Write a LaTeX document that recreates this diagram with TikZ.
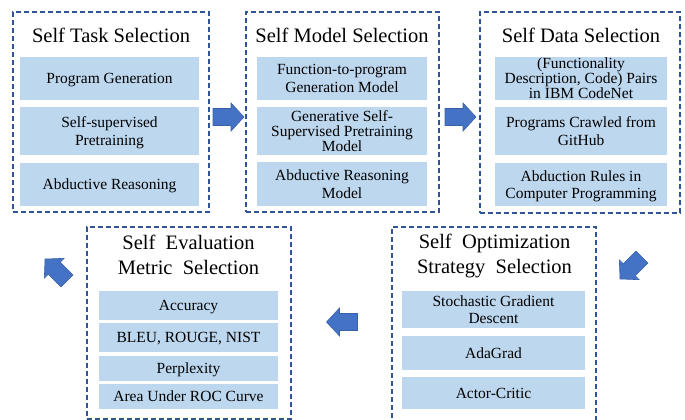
\documentclass[tikz,border=0pt]{standalone}
\usepackage{fontspec}
\setmainfont{Liberation Serif}
\usetikzlibrary{calc}
\definecolor{frameblue}{RGB}{47,85,151}
\definecolor{cellblue}{RGB}{189,215,238}
\definecolor{arrowblue}{RGB}{68,114,196}
\def\blockarrow(#1)(#2){\draw[line width=0.6pt, draw=arrowblue!85!black, fill=arrowblue, shift={(#1)}, rotate=#2] (-15.5,-8.5) -- (2.5,-8.5) -- (2.5,-14) -- (15.5,0) -- (2.5,14) -- (2.5,8.5) -- (-15.5,8.5) -- cycle;}

\begin{document}
\begin{tikzpicture}[x=1pt, y=-1pt,
	frame/.style={draw=frameblue, line width=1.2pt, dash pattern=on 5pt off 3pt, inner sep=0pt},
	title/.style={font=\fontsize{20.5}{25}\selectfont, align=center, inner sep=0pt},
	cell/.style={fill=cellblue, inner sep=0pt, align=center, text depth=0pt, font=\fontsize{15.5}{17.5}\selectfont}]
			%%%%% START %%%%%
			\useasboundingbox (0,0) rectangle (685,420);
			
			\node[frame, minimum width=196, minimum height=200] (task) at (111,112) {};
			\node[title] (tasktitle) at (111,35) {Self Task Selection};
			\node[cell, minimum width=179, minimum height=43] (task1) at (109.5,78.5) {Program Generation};
			\node[cell, minimum width=179, minimum height=48] (task2) at (109.5,131) {Self-supervised\\Pretraining};
			\node[cell, minimum width=179, minimum height=43] (task3) at (109.5,184.5) {Abductive Reasoning};
			
			\node[frame, minimum width=193, minimum height=200] (model) at (342.5,112) {};
			\node[title] (modeltitle) at (342,35) {Self Model Selection};
			\node[cell, minimum width=170, minimum height=43] (model1) at (342,78.5) {Function-to-program\\Generation Model};
			\node[cell, minimum width=170, minimum height=48, font=\fontsize{15.5}{15}\selectfont] (model2) at (342,131) {Generative Self-\\Supervised Pretraining\\Model};
			\node[cell, minimum width=170, minimum height=44] (model3) at (342,184) {Abductive Reasoning\\Model};
			
			\node[frame, minimum width=200, minimum height=201] (data) at (580,112.5) {};
			\node[title] (datatitle) at (581,35) {Self Data Selection};
			\node[cell, minimum width=172, minimum height=43, font=\fontsize{15.5}{15}\selectfont] (data1) at (581,78.5) {(Functionality\\Description, Code) Pairs\\in IBM CodeNet};
			\node[cell, minimum width=172, minimum height=48] (data2) at (581,131) {Programs Crawled from\\GitHub};
			\node[cell, minimum width=172, minimum height=43] (data3) at (581,184.5) {Abduction Rules in\\Computer Programming};
			
			\node[frame, minimum width=204, minimum height=198] (optim) at (494,326) {};
			\node[title] (optimtitle) at (494.5,255.5) {Self~ Optimization\\Strategy~ Selection};
			\node[cell, minimum width=183, minimum height=37] (optim1) at (493.5,309.5) {Stochastic Gradient\\Descent};
			\node[cell, minimum width=183, minimum height=34] (optim2) at (493.5,353) {AdaGrad};
			\node[cell, minimum width=183, minimum height=32] (optim3) at (493.5,393) {Actor-Critic};
			
			\node[frame, minimum width=204, minimum height=192] (eval) at (189,323) {};
			\node[title] (evaltitle) at (188.5,254.5) {Self~ Evaluation\\Metric~ Selection};
			\node[cell, minimum width=179, minimum height=29] (eval1) at (188.5,305.5) {Accuracy};
			\node[cell, minimum width=179, minimum height=29] (eval2) at (188.5,337.5) {BLEU, ROUGE, NIST};
			\node[cell, minimum width=179, minimum height=25] (eval3) at (188.5,368.5) {Perplexity};
			\node[cell, minimum width=179, minimum height=25] (eval4) at (188.5,396.5) {Area Under ROC Curve};
			
			\blockarrow(228.5,117)(0)
			\blockarrow(460.5,117)(0)
			\blockarrow(631,268)(225)
			\blockarrow(342,322)(180)
			\blockarrow(56,270)(135)
			
			%%%%% END %%%%%
\end{tikzpicture}
\end{document}
